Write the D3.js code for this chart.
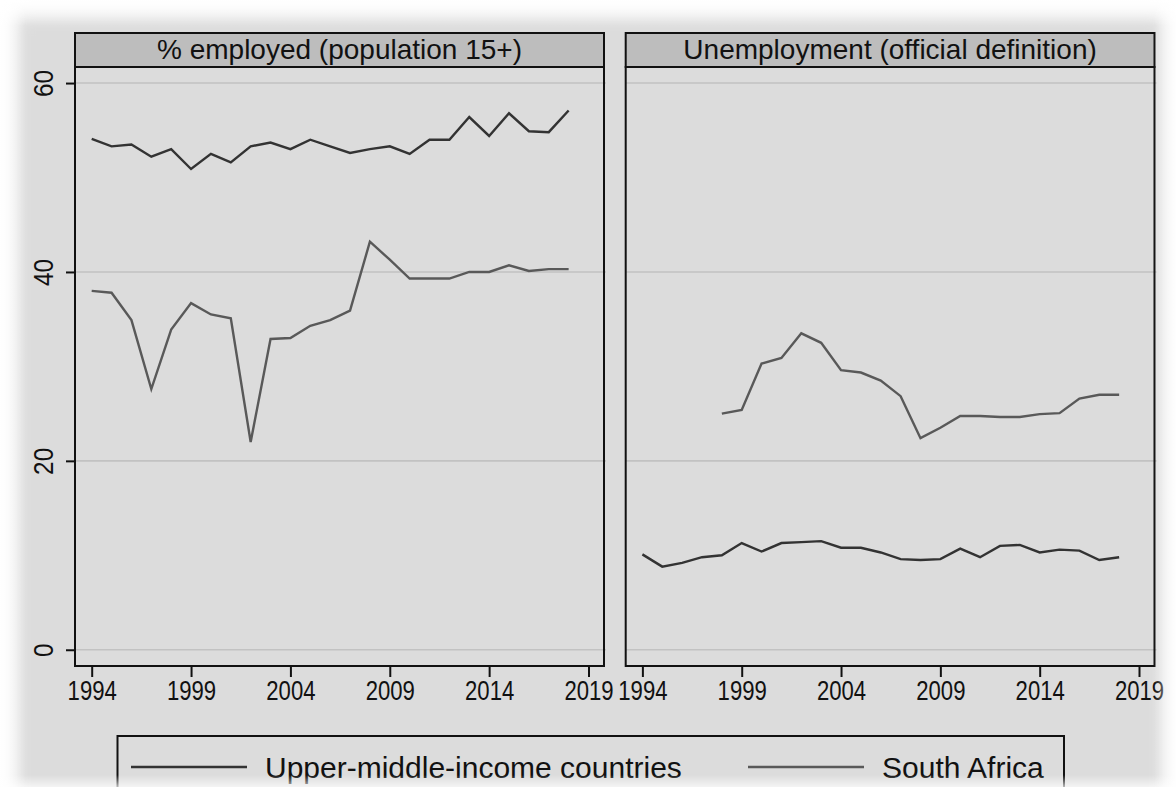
<!DOCTYPE html>
<html>
<head>
<meta charset="utf-8">
<script src="https://cdn.jsdelivr.net/npm/d3@7"></script>
<style>
  html, body { margin: 0; padding: 0; background: #ffffff; }
  svg { display: block; font-family: "Liberation Sans", Arial, Helvetica, sans-serif; }
</style>
</head>
<body>
<svg id="chart" width="1176" height="787"></svg>
<script>
// Years covered by both panels
const years = d3.range(1994, 2019);

// % employed, population 15+
const umicEmployed = [54.1, 53.3, 53.5, 52.2, 53.0, 50.9, 52.5, 51.6, 53.3, 53.7, 53.0, 54.0, 53.3,
                      52.6, 53.0, 53.3, 52.5, 54.0, 54.0, 56.4, 54.4, 56.8, 54.9, 54.8, 57.1];
const saEmployed   = [38.0, 37.8, 34.9, 27.6, 33.9, 36.7, 35.5, 35.1, 22.0, 32.9, 33.0, 34.3, 34.9,
                      35.9, 43.2, 41.3, 39.3, 39.3, 39.3, 40.0, 40.0, 40.7, 40.1, 40.3, 40.3];

// Unemployment rate, official definition (South Africa series starts in 1998)
const umicUnemployment = [10.1, 8.8, 9.2, 9.8, 10.0, 11.3, 10.4, 11.3, 11.4, 11.5, 10.8, 10.8, 10.3,
                          9.6, 9.5, 9.6, 10.7, 9.8, 11.0, 11.1, 10.3, 10.6, 10.5, 9.5, 9.8];
const saUnemployment   = [null, null, null, null, 25.0, 25.4, 30.3, 30.9, 33.5, 32.5, 29.6, 29.35, 28.5,
                          26.85, 22.4, 23.5, 24.75, 24.75, 24.65, 24.65, 24.95, 25.05, 26.6, 27.0, 27.0];

const panelTitles = ["% employed (population 15+)", "Unemployment (official definition)"];
const seriesNames = ["Upper-middle-income countries", "South Africa"];
const yTicks = [0, 20, 40, 60];
const xTicks = [1994, 1999, 2004, 2009, 2014, 2019];

const panels = [
  { title: panelTitles[0], series: [umicEmployed, saEmployed] },
  { title: panelTitles[1], series: [umicUnemployment, saUnemployment] }
];
const seriesColors = ["#333333", "#595959"];

const svg = d3.select("#chart");
const W = 1176, H = 787;

// Page background with soft shadowed edges
const defs = svg.append("defs");
defs.append("filter").attr("id", "soft").attr("x", "-5%").attr("y", "-5%").attr("width", "110%").attr("height", "110%")
  .append("feGaussianBlur").attr("stdDeviation", 9);
svg.append("rect").attr("width", W).attr("height", H).attr("fill", "#ffffff");
svg.append("rect").attr("x", 14).attr("y", 14).attr("width", W - 24).attr("height", H + 30)
  .attr("fill", "#dcdcdc").attr("filter", "url(#soft)");

// Panel geometry
const plotTop = 67, plotBottom = 666, stripTop = 33;
const panelX = [[75, 604], [625.7, 1154.5]];

const y = d3.scaleLinear().domain([-1.72, 61.7]).range([plotBottom, plotTop]);

panels.forEach((p, i) => {
  const [x0, x1] = panelX[i];
  const x = d3.scaleLinear().domain([1993.16, 2019.78]).range([x0, x1]);
  const g = svg.append("g");

  // plot region
  g.append("rect").attr("x", x0).attr("y", plotTop).attr("width", x1 - x0).attr("height", plotBottom - plotTop)
    .attr("fill", "#dcdcdc");

  // horizontal grid
  g.append("g").selectAll("line").data(yTicks).join("line")
    .attr("x1", x0).attr("x2", x1 + 2)
    .attr("y1", d => y(d)).attr("y2", d => y(d))
    .attr("stroke", "#c2c2c2").attr("stroke-width", 1.6);

  // series lines
  p.series.forEach((vals, k) => {
    const line = d3.line()
      .defined(d => d != null)
      .x((d, j) => x(years[j]))
      .y(d => y(d));
    g.append("path").datum(vals)
      .attr("d", line)
      .attr("fill", "none")
      .attr("stroke", seriesColors[k])
      .attr("stroke-width", 2.4)
      .attr("stroke-linejoin", "miter");
  });

  // frame
  g.append("rect").attr("x", x0).attr("y", plotTop).attr("width", x1 - x0).attr("height", plotBottom - plotTop)
    .attr("fill", "none").attr("stroke", "#111").attr("stroke-width", 2);

  // title strip
  g.append("rect").attr("x", x0).attr("y", stripTop).attr("width", x1 - x0).attr("height", plotTop - stripTop)
    .attr("fill", "#bdbdbd").attr("stroke", "#111").attr("stroke-width", 2);
  g.append("text").attr("x", (x0 + x1) / 2).attr("y", 59)
    .attr("text-anchor", "middle").attr("font-size", 28).attr("fill", "#111")
    .text(p.title);

  // x axis
  const xAxis = g.append("g").attr("transform", `translate(0,${plotBottom})`)
    .call(d3.axisBottom(x).tickValues(xTicks).tickFormat(d3.format("d")).tickSize(11).tickPadding(4));
  xAxis.select(".domain").remove();
  xAxis.selectAll(".tick line").attr("stroke", "#111").attr("stroke-width", 2);
  xAxis.selectAll(".tick text").attr("font-size", 27).attr("fill", "#111")
    .attr("font-family", "'Liberation Sans', Arial, sans-serif")
    .attr("transform", "scale(0.82,1)")
    .attr("dy", "0.71em");

  // y axis on the first panel only
  if (i === 0) {
    const yAxis = g.append("g").attr("transform", `translate(${x0},0)`)
      .call(d3.axisLeft(y).tickValues(yTicks).tickSize(9).tickPadding(0).tickFormat(d3.format("d")));
    yAxis.select(".domain").remove();
    yAxis.selectAll(".tick line").attr("stroke", "#111").attr("stroke-width", 2);
    yAxis.selectAll(".tick text").remove();
    yAxis.selectAll(".tick").append("text")
      .attr("transform", "translate(-22,0) rotate(-90) scale(0.87,1)")
      .attr("text-anchor", "middle")
      .attr("font-size", 28).attr("fill", "#111")
      .text(d => d);
  }
});

// Legend
const lg = svg.append("g");
lg.append("rect").attr("x", 117.5).attr("y", 736).attr("width", 946.5).attr("height", 80)
  .attr("fill", "#dcdcdc").attr("stroke", "#111").attr("stroke-width", 2);
const legendItems = [
  { name: seriesNames[0], color: seriesColors[0], lx: 131, tx: 265 },
  { name: seriesNames[1], color: seriesColors[1], lx: 748, tx: 882 }
];
legendItems.forEach(it => {
  lg.append("line").attr("x1", it.lx).attr("x2", it.lx + 116).attr("y1", 767).attr("y2", 767)
    .attr("stroke", it.color).attr("stroke-width", 2.4);
  lg.append("text").attr("x", it.tx).attr("y", 778).attr("font-size", 30).attr("fill", "#111")
    .text(it.name);
});

// Faded edges
const fades = [
  { id: "fTop", x1: 0, y1: 0, x2: 0, y2: 1, r: [0, 0, W, 26], o: 0.85 },
  { id: "fBot", x1: 0, y1: 1, x2: 0, y2: 0, r: [0, H - 12, W, 12], o: 0.7 },
  { id: "fLeft", x1: 0, y1: 0, x2: 1, y2: 0, r: [0, 0, 26, H], o: 0.85 },
  { id: "fRight", x1: 1, y1: 0, x2: 0, y2: 0, r: [W - 22, 0, 22, H], o: 0.75 }
];
fades.forEach(f => {
  const gr = defs.append("linearGradient").attr("id", f.id)
    .attr("x1", f.x1).attr("y1", f.y1).attr("x2", f.x2).attr("y2", f.y2);
  gr.append("stop").attr("offset", 0).attr("stop-color", "#fff").attr("stop-opacity", f.o);
  gr.append("stop").attr("offset", 1).attr("stop-color", "#fff").attr("stop-opacity", 0);
  svg.append("rect").attr("x", f.r[0]).attr("y", f.r[1]).attr("width", f.r[2]).attr("height", f.r[3])
    .attr("fill", `url(#${f.id})`);
});
</script>
</body>
</html>
